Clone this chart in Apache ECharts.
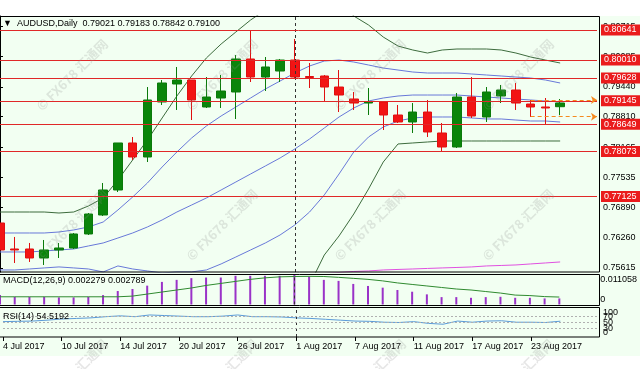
<!DOCTYPE html>
<html><head><meta charset="utf-8">
<script src="https://cdn.jsdelivr.net/npm/echarts@6/dist/echarts.min.js"></script>
<style>html,body{margin:0;padding:0;background:#fff}#c{width:640px;height:369px}</style>
</head><body><div id="c"></div>
<script>
// ---------- data ----------
const dates = ['4 Jul 2017','5 Jul 2017','6 Jul 2017','7 Jul 2017','10 Jul 2017','11 Jul 2017','12 Jul 2017','13 Jul 2017','14 Jul 2017','17 Jul 2017','18 Jul 2017','19 Jul 2017','20 Jul 2017','21 Jul 2017','24 Jul 2017','25 Jul 2017','26 Jul 2017','27 Jul 2017','28 Jul 2017','31 Jul 2017','1 Aug 2017','2 Aug 2017','3 Aug 2017','4 Aug 2017','7 Aug 2017','8 Aug 2017','9 Aug 2017','10 Aug 2017','11 Aug 2017','14 Aug 2017','15 Aug 2017','16 Aug 2017','17 Aug 2017','18 Aug 2017','21 Aug 2017','22 Aug 2017','23 Aug 2017','24 Aug 2017','25 Aug 2017'];
const open  = [0.76565,0.76016,0.76016,0.75826,0.75995,0.76037,0.76333,0.76734,0.77262,0.78255,0.77959,0.79121,0.79501,0.79585,0.79015,0.79205,0.79332,0.80029,0.79648,0.79775,0.80007,0.79659,0.79670,0.79437,0.79184,0.79099,0.79121,0.78846,0.78698,0.78909,0.78466,0.78170,0.79226,0.78804,0.79247,0.79374,0.79078,0.79015,0.79021];
const close = [0.75995,0.75995,0.75826,0.75995,0.76037,0.76333,0.76755,0.77262,0.78255,0.77959,0.79163,0.79522,0.79585,0.79163,0.79226,0.79353,0.80029,0.79648,0.79860,0.80007,0.79648,0.79638,0.79437,0.79268,0.79099,0.79121,0.78846,0.78698,0.78909,0.78487,0.78170,0.79226,0.78825,0.79332,0.79374,0.79099,0.79015,0.78994,0.79100];
const high  = [0.76798,0.76270,0.76143,0.76206,0.76143,0.76354,0.76776,0.77410,0.78255,0.78381,0.79437,0.79585,0.79860,0.79585,0.79648,0.79691,0.80113,0.80641,0.80071,0.80029,0.80451,0.79944,0.79691,0.79796,0.79332,0.79416,0.79121,0.79057,0.79099,0.79163,0.78677,0.79311,0.79648,0.79437,0.79480,0.79522,0.79163,0.79205,0.79183];
const low   = [0.75932,0.75720,0.75742,0.75678,0.75826,0.76016,0.76312,0.76713,0.77220,0.77896,0.77853,0.79057,0.78952,0.78740,0.78994,0.78994,0.78761,0.79543,0.79353,0.79543,0.79627,0.79416,0.79142,0.78909,0.78952,0.78846,0.78529,0.78677,0.78466,0.78381,0.78065,0.78149,0.78783,0.78698,0.79099,0.78952,0.78804,0.78656,0.78842];

const bbUpper2 = [0.76797,0.76797,0.76797,0.76797,0.76776,0.76797,0.76924,0.77093,0.77474,0.77896,0.78318,0.78783,0.79247,0.79670,0.80050,0.80345,0.80599,0.80852,0.81063,0.81232,0.81380,0.81443,0.81401,0.81232,0.80937,0.80747,0.80493,0.80303,0.80219,0.80155,0.80219,0.80240,0.80240,0.80240,0.80219,0.80155,0.80071,0.80007,0.79944];
const bbUpper1 = [0.76354,0.76354,0.76354,0.76354,0.76375,0.76418,0.76481,0.76586,0.76840,0.77114,0.77410,0.77748,0.78065,0.78360,0.78614,0.78825,0.79015,0.79205,0.79395,0.79564,0.79733,0.79881,0.79986,0.80007,0.79965,0.79902,0.79838,0.79796,0.79754,0.79733,0.79733,0.79733,0.79712,0.79691,0.79670,0.79648,0.79627,0.79585,0.79522];
const bbMiddle = [0.75953,0.75953,0.75953,0.75974,0.75995,0.76016,0.76080,0.76143,0.76248,0.76354,0.76481,0.76629,0.76797,0.76945,0.77093,0.77262,0.77431,0.77600,0.77769,0.77938,0.78128,0.78339,0.78571,0.78804,0.78994,0.79142,0.79205,0.79247,0.79268,0.79268,0.79268,0.79268,0.79247,0.79226,0.79205,0.79184,0.79163,0.79142,0.79121];
const bbLower1 = [0.75573,0.75573,0.75594,0.75616,0.75637,0.75616,0.75594,0.75531,0.75658,0.75594,0.75552,0.75510,0.75531,0.75531,0.75573,0.75700,0.75847,0.75995,0.76143,0.76312,0.76523,0.76797,0.77157,0.77600,0.78065,0.78381,0.78593,0.78719,0.78783,0.78804,0.78804,0.78804,0.78783,0.78762,0.78762,0.78740,0.78719,0.78719,0.78698];
const bbLower2 = [null,null,null,null,null,null,null,null,null,null,null,null,null,null,null,null,null,null,null,null,0.75150,0.75256,0.75889,0.76291,0.76755,0.77283,0.77853,0.78234,0.78255,0.78276,0.78297,0.78297,0.78297,0.78297,0.78297,0.78297,0.78297,0.78297,0.78297];
const maSlow   = [null,null,null,null,null,null,null,null,null,null,null,null,null,null,null,null,null,null,null,null,null,null,0.75499,0.75520,0.75541,0.75552,0.75573,0.75584,0.75594,0.75605,0.75616,0.75626,0.75637,0.75658,0.75668,0.75679,0.75700,0.75721,0.75742];

const macdHist   = [0.00353,0.00289,0.00289,0.00289,0.00266,0.00266,0.00289,0.00353,0.00505,0.00581,0.00707,0.00847,0.00923,0.00988,0.01011,0.01011,0.01075,0.01075,0.01075,0.01075,0.011058,0.01049,0.00923,0.00885,0.00771,0.00695,0.00631,0.00543,0.00479,0.00380,0.00277,0.00277,0.00251,0.00277,0.00289,0.00251,0.00251,0.00228,0.002279];
const macdSignal = [0.00289,0.00289,0.00289,0.00289,0.00289,0.00289,0.00289,0.00289,0.00289,0.00315,0.00391,0.00467,0.00543,0.00619,0.00714,0.00790,0.00866,0.00942,0.00999,0.01037,0.01049,0.01056,0.01049,0.01018,0.00980,0.00942,0.00885,0.00809,0.00752,0.00695,0.00638,0.00581,0.00543,0.00486,0.00429,0.00353,0.00334,0.00296,0.002789];
const rsi = [53,54,55,58,62,64,66,70,73,70,76,74,72,70,70,72,76,70,70,69,66,64,61,58,55,54,51,50,53,47,44,55,51,55,56,51,51,50,54.5192];

const levels = [0.80641,0.80010,0.79628,0.79145,0.78649,0.78073,0.77125];
const priceTicks = [0.75615,0.76260,0.76890,0.77535,0.78165,0.78810,0.79440,0.80085,0.80715];
const orderLines = [0.79165,0.78810];
const lastPrice = 0.79100;
const priceRange = [0.75530,0.80937];
const barRange = [0,40.5];          // visible bar slots (index of first bar .. right edge incl. chart shift)
const macdRange = [0,0.011058];
const rsiTicksA = [0,50,100];
const rsiTicksB = [30,70];
const rsiLevels = [70,50,30];
const separatorDate = '1 Aug 2017';
const symbolName = 'AUDUSD,Daily';
const headerOHLC = [0.79021,0.79183,0.78842,0.79100];

// ---------- chart ----------
const FONT = '"Liberation Sans", Arial, sans-serif';
const n = dates.length;
const sepIndex = dates.indexOf(separatorDate);
const dateTicks = dates.map((d, i) => i).filter(i => i % 4 === 0);
const candleData = dates.map((d, i) => [i, open[i], close[i], low[i], high[i]]);
const xy = arr => arr.map((v, i) => [i, v]);

const lineS = (name, data, color) => ({
  name, type: 'line', data: xy(data), xAxisIndex: 0, yAxisIndex: 0, symbol: 'none',
  lineStyle: { color, width: 1 }, z: 3, silent: true, connectNulls: false
});

const boxLabel = (bg) => ({ show: true, position: 'end', distance: 4, formatter: p => p.value.toFixed(5),
  color: '#fff', backgroundColor: bg, padding: [1, 4, 0, 3], fontSize: 9, lineHeight: 10, fontFamily: FONT });
const levelItems = levels.map(v => ({
  yAxis: v, lineStyle: { color: '#e02828', width: 1, type: 'solid' }, label: boxLabel('#ea1c1c')
}));
const lastItem = { yAxis: lastPrice, lineStyle: { opacity: 0 }, label: boxLabel('#000') };
const orderItems = orderLines.map(v => [
  { coord: [n - 3, v], symbol: 'none' },
  { coord: [barRange[1], v], symbol: 'arrow', symbolSize: 6,
    lineStyle: { color: '#f58a1f', width: 1, type: [4, 3] }, label: { show: false } }
]);
const sepItem = () => ({ xAxis: sepIndex, lineStyle: { color: '#333', width: 1, type: [3, 3] }, label: { show: false } });

const wm = [];
[75, 225, 375].forEach(cy => [72, 222, 370, 518].forEach(cx => {
  wm.push({ type: 'text', x: cx, y: cy, rotation: Math.PI / 4, z: 100, silent: true,
    style: { text: '© FX678 汇通网', fill: 'rgba(140,140,140,0.22)', font: 'bold 13px "Noto Sans CJK SC", sans-serif', align: 'center', verticalAlign: 'middle' } });
}));

const txt = { fontSize: 9, fontWeight: 'normal', color: '#000', fontFamily: FONT };
const option = {
  animation: false,
  backgroundColor: '#ffffff',
  textStyle: { fontFamily: FONT },
  title: [
    { text: '▼  ' + symbolName + '  ' + headerOHLC.map(v => v.toFixed(5)).join(' '), left: 3, top: 19, padding: 0, textStyle: txt },
    { text: 'MACD(12,26,9) ' + macdHist[n - 1].toFixed(6) + ' ' + macdSignal[n - 1].toFixed(6), left: 3, top: 276, padding: 0, textStyle: txt },
    { text: 'RSI(14) ' + rsi[n - 1].toFixed(4), left: 3, top: 312, padding: 0, textStyle: txt }
  ],
  graphic: [
    { type: 'rect', shape: { x: 0, y: 16, width: 640, height: 340 }, style: { fill: '#f2fff2' }, z: -10, silent: true },
    { type: 'rect', shape: { x: -1, y: 16.5, width: 600.5, height: 255.5 }, style: { fill: 'none', stroke: '#000', lineWidth: 1 }, z: 50, silent: true },
    { type: 'rect', shape: { x: -1, y: 274.5, width: 600.5, height: 31 }, style: { fill: 'none', stroke: '#000', lineWidth: 1 }, z: 50, silent: true },
    { type: 'rect', shape: { x: -1, y: 307.5, width: 600.5, height: 29.5 }, style: { fill: 'none', stroke: '#000', lineWidth: 1 }, z: 50, silent: true }
  ].concat(wm),
  grid: [
    { left: 0, right: 43, top: 16, height: 256 },
    { left: 0, right: 43, top: 275, height: 29.5 },
    { left: 0, right: 43, top: 308, height: 29 }
  ],
  xAxis: [0, 1, 2].map(g => ({
    type: 'value', gridIndex: g, min: barRange[0], max: barRange[1],
    axisLine: { show: false },
    axisTick: { show: g === 2, customValues: dateTicks, length: 4, lineStyle: { color: '#000' } },
    axisLabel: { show: g === 2, customValues: dateTicks, formatter: v => dates[v] || '', align: 'left',
      fontSize: 9, color: '#000', margin: 5, fontFamily: FONT, showMinLabel: true },
    splitLine: { show: false }
  })),
  yAxis: [
    { type: 'value', gridIndex: 0, position: 'right', offset: 3, min: priceRange[0], max: priceRange[1],
      axisLine: { show: true, lineStyle: { color: '#000' } },
      axisTick: { show: true, length: 3, customValues: priceTicks, lineStyle: { color: '#000' } },
      axisLabel: { customValues: priceTicks, formatter: v => v.toFixed(5), fontSize: 9, color: '#000', margin: 3, fontFamily: FONT },
      splitLine: { show: false } },
    { type: 'value', gridIndex: 1, position: 'right', offset: 3, min: macdRange[0], max: macdRange[1],
      axisLine: { show: false }, axisTick: { show: false },
      axisLabel: { customValues: macdRange, formatter: v => v === 0 ? '0' : v.toFixed(6), fontSize: 9, color: '#000', margin: 1,
        showMinLabel: true, showMaxLabel: true, verticalAlignMinLabel: 'bottom', verticalAlignMaxLabel: 'top', fontFamily: FONT },
      splitLine: { show: false } },
    { type: 'value', gridIndex: 2, position: 'right', offset: 3, min: 0, max: 100,
      axisLine: { show: false }, axisTick: { show: false },
      axisLabel: { customValues: rsiTicksA, fontSize: 9, color: '#000', margin: 3, showMinLabel: true, showMaxLabel: true,
        verticalAlignMinLabel: 'bottom', verticalAlignMaxLabel: 'top', fontFamily: FONT },
      splitLine: { show: false } },
    { type: 'value', gridIndex: 2, position: 'right', offset: 3, min: 0, max: 100,
      axisLine: { show: false }, axisTick: { show: false },
      axisLabel: { customValues: rsiTicksB, fontSize: 9, color: '#000', margin: 3, showMinLabel: true, showMaxLabel: true, fontFamily: FONT },
      splitLine: { show: false } }
  ],
  series: [
    { name: 'price', type: 'candlestick', data: candleData, encode: { x: 0, y: [1, 2, 3, 4] },
      xAxisIndex: 0, yAxisIndex: 0, barWidth: 9, z: 4,
      itemStyle: { color: '#0a850a', color0: '#f21414', borderColor: '#0a7a0a', borderColor0: '#e01010', borderWidth: 1 },
      markLine: { silent: true, precision: 6, symbol: ['none', 'none'], animation: false,
        data: [sepItem(), lastItem].concat(levelItems).concat(orderItems) } },
    lineS('bbUpper2', bbUpper2, '#3d6b3d'),
    lineS('bbLower2', bbLower2, '#3d6b3d'),
    lineS('bbUpper1', bbUpper1, '#6878d8'),
    lineS('bbMiddle', bbMiddle, '#6878d8'),
    lineS('bbLower1', bbLower1, '#6878d8'),
    lineS('maSlow', maSlow, '#e050e0'),
    { name: 'macd', type: 'bar', data: xy(macdHist), xAxisIndex: 1, yAxisIndex: 1, barWidth: 2,
      itemStyle: { color: '#9a32c8' }, silent: true,
      markLine: { silent: true, symbol: ['none', 'none'], data: [sepItem()] } },
    { name: 'signal', type: 'line', data: xy(macdSignal), xAxisIndex: 1, yAxisIndex: 1, symbol: 'none',
      lineStyle: { color: '#2f8a2f', width: 1 }, silent: true },
    { name: 'rsi', type: 'line', data: xy(rsi), xAxisIndex: 2, yAxisIndex: 2, symbol: 'none',
      lineStyle: { color: '#5b9bd8', width: 1 }, silent: true,
      markLine: { silent: true, precision: 2, symbol: ['none', 'none'],
        data: [sepItem()].concat(rsiLevels.map(v => ({ yAxis: v, lineStyle: { color: '#b0b0b0', width: 1, type: [2, 2] }, label: { show: false } }))) } }
  ]
};
const chart = echarts.init(document.getElementById('c'));
chart.setOption(option);
</script></body></html>
